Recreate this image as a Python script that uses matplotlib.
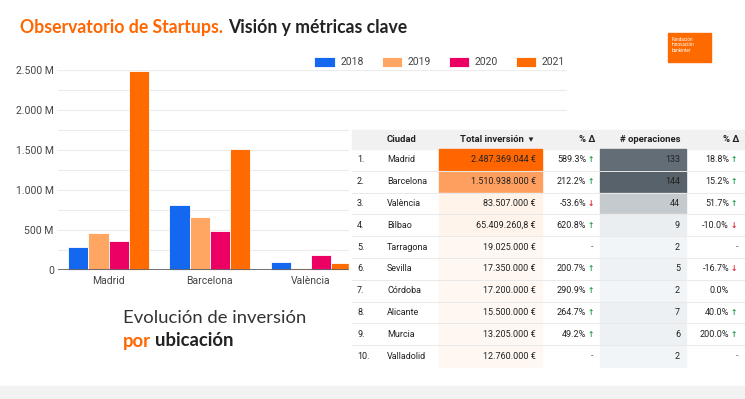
import numpy as np
import matplotlib.pyplot as plt
from matplotlib.patches import Rectangle
from matplotlib.colors import LinearSegmentedColormap, Normalize

# bar chart data (millions of euros)
cities = ["Madrid", "Barcelona", "València"]
years = ["2018", "2019", "2020", "2021"]
inv_2018 = [284, 811, 100]
inv_2019 = [460, 656, 18]
inv_2020 = [361, 484, 180]
inv_2021 = [2487, 1511, 83.5]
year_colors = ["#1468f0", "#ffa662", "#ec0063", "#ff6b00"]

# table data
tbl_city = ["Madrid", "Barcelona", "València", "Bilbao", "Tarragona", "Sevilla",
            "Córdoba", "Alicante", "Murcia", "Valladolid"]
tbl_inv = [2487369044, 1510938000, 83507000, 65409260.8, 19025000, 17350000,
           17200000, 15500000, 13205000, 12760000]
tbl_inv_pct = [589.3, 212.2, -53.6, 620.8, None, 200.7, 290.9, 264.7, 49.2, None]
tbl_ops = [133, 144, 44, 9, 2, 5, 2, 7, 6, 2]
tbl_ops_pct = [18.8, 15.2, 51.7, -10.0, None, -16.7, 0.0, 40.0, 200.0, None]

plt.rcParams['font.family'] = ['Roboto', 'DejaVu Sans']

W, H = 745, 399
fig = plt.figure(figsize=(W / 100, H / 100), dpi=100)


def fx(px):
    return px / W


def fy(py):
    return 1 - py / H


# ---- bar chart ----
ax = fig.add_axes([fx(58), fy(269.5), fx(567 - 58), fy(70) - fy(269.5)], zorder=1)
x = np.arange(len(cities))
series = [inv_2018, inv_2019, inv_2020, inv_2021]
for i, (yr, vals) in enumerate(zip(years, series)):
    ax.bar(x + (i - 1.5) * 0.2, vals, width=0.2, color=year_colors[i],
           edgecolor="white", linewidth=0.6, label=yr, clip_on=False, zorder=3)
ax.set_xlim(-0.5, 4.53)
ax.set_ylim(0, 2500)
ax.set_yticks([0, 500, 1000, 1500, 2000, 2500])
ax.set_yticklabels(["0", "500 M", "1.000 M", "1.500 M", "2.000 M", "2.500 M"])
ax.set_yticks(np.arange(250, 2500, 500), minor=True)
ax.set_xticks(x)
ax.set_xticklabels(cities)
ax.grid(axis="y", which="both", color="#ececec", linewidth=0.8, zorder=0)
ax.tick_params(axis="both", which="both", length=0, labelsize=7.5, colors="#444444")
ax.tick_params(axis="x", pad=5)
ax.tick_params(axis="y", pad=3)
for s in ax.spines.values():
    s.set_visible(False)
ax.axhline(0, color="#666666", linewidth=1.3, zorder=4)
ax.legend(loc="center right", bbox_to_anchor=(fx(570), fy(62)), bbox_transform=fig.transFigure,
          ncol=4, frameon=False, fontsize=7.5, handlelength=2.0, handleheight=1.15,
          handletextpad=0.5, columnspacing=1.7, borderpad=0, labelcolor="#444444")

# ---- overlay canvas in pixel coords ----
cv = fig.add_axes([0, 0, 1, 1], zorder=5)
cv.set_xlim(0, W)
cv.set_ylim(H, 0)
cv.axis("off")
cv.patch.set_visible(False)

# title
t1 = cv.text(20, 28, "Observatorio de Startups.", color="#ff6600", fontsize=12.7,
             fontweight="bold", family="Lato", va="center")
fig.canvas.draw()
r = fig.canvas.get_renderer()
bb = t1.get_window_extent(r).transformed(cv.transData.inverted())
cv.text(bb.x1 + 5, 28, "Visión y métricas clave", color="#222222", fontsize=12.7,
        fontweight="bold", family="Lato", va="center")

# logo
cv.add_patch(Rectangle((668, 33), 43, 29, color="#ff6a00", zorder=2))
cv.text(672, 37, "Fundación\ninnovación\nbankinter", color="white", fontsize=3.3,
        va="top", ha="left", linespacing=1.1, zorder=3)

# subtitle lower left
cv.text(123, 318, "Evolución de inversión", color="#333333", fontsize=13.3,
        family="Lato", va="center")
t2 = cv.text(123, 341, "por", color="#ff6600", fontsize=13.3, fontweight="bold",
             family="Lato", va="center")
fig.canvas.draw()
bb2 = t2.get_window_extent(r).transformed(cv.transData.inverted())
cv.text(bb2.x1 + 4, 341, "ubicación", color="#222222", fontsize=13.3, fontweight="bold",
        family="Lato", va="center")

# bottom band
cv.add_patch(Rectangle((0, 386), W, 13, color="#f2f2f2", zorder=1))

# ---- table ----
tx0, tx1 = 349, W
head_y0, head_y1 = 130, 149
row_h = 21.8
cv.add_patch(Rectangle((tx0, 120), tx1 - tx0, 250, color="white", zorder=1))
cv.add_patch(Rectangle((tx0 + 3, head_y0), tx1 - tx0 - 3, head_y1 - head_y0,
                       color="#f1f1f1", zorder=2))

hy = (head_y0 + head_y1) / 2
hkw = dict(fontsize=6.8, fontweight="bold", color="#222222", va="center", zorder=4)
cv.text(387, hy, "Ciudad", ha="left", **hkw)
cv.text(533, hy, "Total inversión  ▾", ha="right", **hkw)
cv.text(595, hy, "% Δ", ha="right", **hkw)
cv.text(680, hy, "# operaciones", ha="right", **hkw)
cv.text(739, hy, "% Δ", ha="right", **hkw)

inv_cmap = LinearSegmentedColormap.from_list("inv", ["#fff7f1", "#ff6600"])
ops_cmap = LinearSegmentedColormap.from_list("ops", ["#f2f5f7", "#58626a"])
inv_norm = Normalize(min(tbl_inv), max(tbl_inv))
ops_norm = Normalize(min(tbl_ops), max(tbl_ops))


def eur(v):
    if v != int(v):
        ip = f"{int(v):,}".replace(",", ".")
        dec = f"{v:.1f}".split(".")[1]
        return f"{ip},{dec} €"
    return f"{int(v):,} €".replace(",", ".")


def pct_cell(xr, y, p, dash_x):
    if p is None:
        cv.text(dash_x, y, "-", ha="right", va="center", fontsize=6.5, color="#666666", zorder=4)
        return
    cv.text(xr, y, f"{p:.1f}%", ha="right", va="center", fontsize=6.5, color="#222222", zorder=4)
    if p > 0:
        cv.text(xr + 1.5, y, "↑", ha="left", va="center", fontsize=5.5, color="#1e9e4a",
                fontweight="bold", zorder=4)
    elif p < 0:
        cv.text(xr + 1.5, y, "↓", ha="left", va="center", fontsize=5.5, color="#e0242f",
                fontweight="bold", zorder=4)


tkw = dict(fontsize=6.5, color="#222222", va="center", zorder=4)
for i in range(len(tbl_city)):
    y0 = head_y1 + i * row_h
    yc = y0 + row_h / 2
    cv.add_patch(Rectangle((439, y0), 103, row_h, color=inv_cmap(inv_norm(tbl_inv[i])), zorder=2))
    cv.add_patch(Rectangle((600, y0), 86, row_h, color=ops_cmap(ops_norm(tbl_ops[i])), zorder=2))
    if i > 0:
        cv.plot([tx0 + 3, tx1], [y0, y0], color="#e9e9e9", linewidth=0.7, zorder=3)
    cv.text(357, yc, f"{i + 1}.", ha="left", **tkw)
    cv.text(387, yc, tbl_city[i], ha="left", **tkw)
    cv.text(536, yc, eur(tbl_inv[i]), ha="right", **tkw)
    pct_cell(586, yc, tbl_inv_pct[i], 593)
    cv.text(680, yc, str(tbl_ops[i]), ha="right", **tkw)
    if tbl_ops_pct[i] == 0:
        cv.text(729, yc, "0.0%", ha="right", **tkw)
    else:
        pct_cell(729, yc, tbl_ops_pct[i], 738)

fig.savefig("out.png", dpi=100)
